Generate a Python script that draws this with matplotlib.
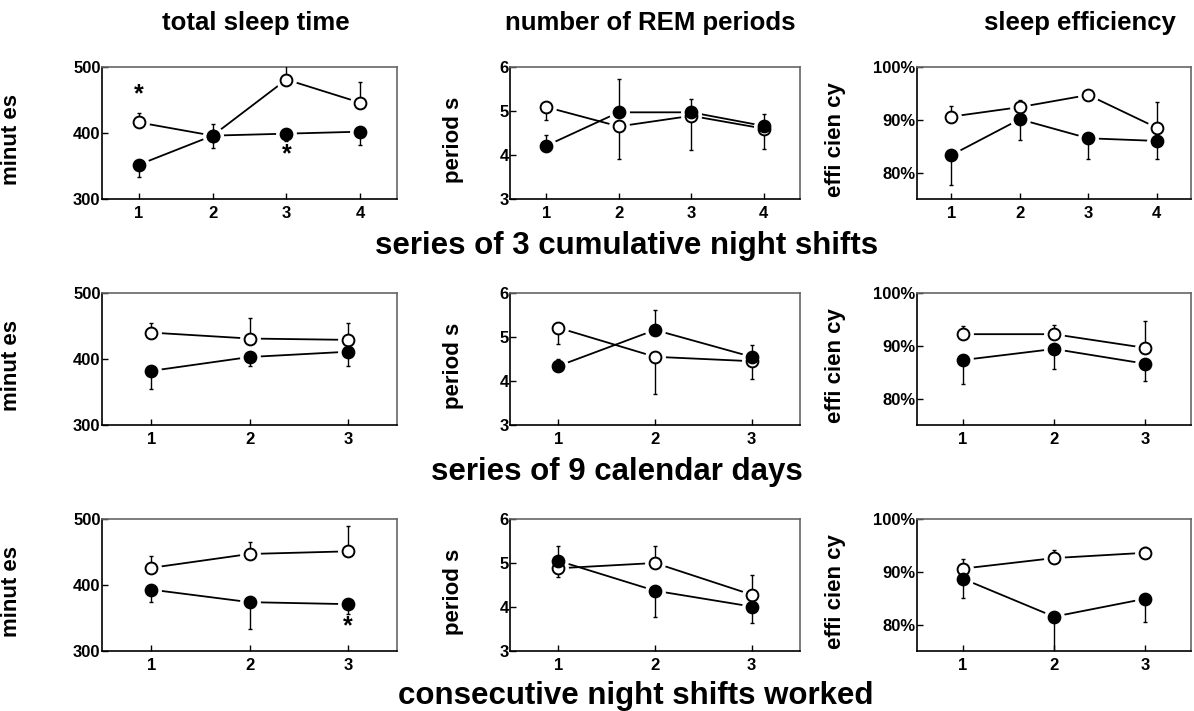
import matplotlib
matplotlib.use('Agg')
import matplotlib.pyplot as plt

plt.rcParams['font.family'] = ['Liberation Sans', 'DejaVu Sans']
plt.rcParams['font.weight'] = 'bold'

# column titles / row captions
col_titles = ['total sleep time', 'number of REM periods', 'sleep efficiency']
row_titles = ['series of 3 cumulative night shifts', 'series of 9 calendar days',
              'consecutive night shifts worked']
y_labels = ['minut es', 'period s', 'effi cien cy']

# values; errors signed (+ up, - down)
x_row1 = [1, 2, 3, 4]
x_row23 = [1, 2, 3]

tst1_open = [416, 396, 481, 446]
tst1_open_err = [14, 18, 22, 31]
tst1_fill = [352, 396, 399, 402]
tst1_fill_err = [-19, -19, -11, -20]
rem1_open = [5.09, 4.65, 4.89, 4.60]
rem1_open_err = [-0.30, -0.74, -0.78, -0.46]
rem1_fill = [4.21, 4.97, 4.97, 4.66]
rem1_fill_err = [0.25, 0.76, 0.30, 0.27]
eff1_open = [90.6, 92.4, 94.7, 88.5]
eff1_open_err = [2.1, 1.4, 0, 4.8]
eff1_fill = [83.3, 90.1, 86.5, 86.0]
eff1_fill_err = [-5.6, -4.0, -3.9, -3.5]

tst2_open = [440, 431, 429]
tst2_open_err = [15, 31, 25]
tst2_fill = [382, 403, 411]
tst2_fill_err = [-28, -13, -22]
rem2_open = [5.21, 4.55, 4.45]
rem2_open_err = [-0.36, -0.85, -0.40]
rem2_fill = [4.34, 5.16, 4.55]
rem2_fill_err = [0.16, 0.45, 0.27]
eff2_open = [92.2, 92.2, 89.6]
eff2_open_err = [1.5, 1.7, 5.1]
eff2_fill = [87.3, 89.4, 86.6]
eff2_fill_err = [-4.6, -3.7, -3.3]

tst3_open = [426, 447, 451]
tst3_open_err = [18, 18, 39]
tst3_fill = [393, 374, 371]
tst3_fill_err = [-18, -40, -15]
rem3_open = [4.88, 5.0, 4.28]
rem3_open_err = [-0.19, 0.38, 0.45]
rem3_fill = [5.05, 4.37, 4.01]
rem3_fill_err = [0.34, -0.60, -0.38]
eff3_open = [90.6, 92.6, 93.6]
eff3_open_err = [1.9, 1.6, 1.1]
eff3_fill = [88.7, 81.5, 84.9]
eff3_fill_err = [-3.6, -8.0, -4.5]

# significance stars: (row, col, x, y)
stars = [(0, 0, 1, 458), (0, 0, 3, 367), (2, 0, 3, 338)]

panels = [
    [(x_row1, tst1_open, tst1_open_err, tst1_fill, tst1_fill_err),
     (x_row1, rem1_open, rem1_open_err, rem1_fill, rem1_fill_err),
     (x_row1, eff1_open, eff1_open_err, eff1_fill, eff1_fill_err)],
    [(x_row23, tst2_open, tst2_open_err, tst2_fill, tst2_fill_err),
     (x_row23, rem2_open, rem2_open_err, rem2_fill, rem2_fill_err),
     (x_row23, eff2_open, eff2_open_err, eff2_fill, eff2_fill_err)],
    [(x_row23, tst3_open, tst3_open_err, tst3_fill, tst3_fill_err),
     (x_row23, rem3_open, rem3_open_err, rem3_fill, rem3_fill_err),
     (x_row23, eff3_open, eff3_open_err, eff3_fill, eff3_fill_err)],
]

W, H = 1194, 711
fig = plt.figure(figsize=(W / 100, H / 100), dpi=100)

row_px = [(67, 199), (293, 425), (519, 651)]
col_px = [(102, 397), (510, 800), (917, 1191)]
ylims = [(300, 500), (3, 6), (75, 100)]
yticks = [[300, 400, 500], [3, 4, 5, 6], [80, 90, 100]]
yticklabels = [['300', '400', '500'], ['3', '4', '5', '6'], ['80%', '90%', '100%']]
label_x = [-0.27, -0.16, -0.26]


def draw_series(ax, x, y, err, filled):
    lo = [max(-e, 0) for e in err]
    hi = [max(e, 0) for e in err]
    ax.plot(x, y, color='black', lw=1.3, zorder=1)
    ax.plot(x, y, 'o', ms=14, color='white', mec='white', zorder=2)
    ax.errorbar(x, y, yerr=[lo, hi], fmt='none', ecolor='black', elinewidth=1,
                capsize=1.5, capthick=1, zorder=3)
    fc = 'black' if filled else 'white'
    ax.plot(x, y, 'o', ms=8.5, mfc=fc, mec='black', mew=1.4, zorder=4)


for r in range(3):
    for c in range(3):
        x0, x1 = col_px[c]
        yt, yb = row_px[r]
        ax = fig.add_axes([x0 / W, 1 - yb / H, (x1 - x0) / W, (yb - yt) / H])
        x, yo, eo, yf, ef = panels[r][c]
        draw_series(ax, x, yo, eo, False)
        draw_series(ax, x, yf, ef, True)
        ax.set_xlim(0.5, len(x) + 0.5)
        ax.set_xticks(x)
        ax.set_ylim(*ylims[c])
        ax.set_yticks(yticks[c])
        ax.set_yticklabels(yticklabels[c])
        ax.tick_params(axis='both', direction='in', length=4, width=1,
                       labelsize=12)
        ax.tick_params(axis='y', pad=1)
        ax.tick_params(axis='x', pad=5)
        for s in ['top', 'right']:
            ax.spines[s].set_color('#666666')
        for s in ax.spines.values():
            s.set_linewidth(1.2)
        ax.set_ylabel(y_labels[c], fontsize=16, fontweight='bold')
        ax.yaxis.set_label_coords(label_x[c], 0.45)
        for sr, sc, sx, sy in stars:
            if sr == r and sc == c:
                ax.text(sx, sy, '*', fontsize=18, fontweight='bold',
                        ha='center', va='center')

title_x = [256, 650, 1080]
for t, tx in zip(col_titles, title_x):
    fig.text(tx / W, 1 - 23 / H, t, fontsize=18.5, fontweight='bold',
             ha='center', va='center')

# caption centre x and baseline y, in pixels
row_title_pos = [(627, 254), (617, 480), (636, 704)]
for t, (tx, ty) in zip(row_titles, row_title_pos):
    fig.text(tx / W, 1 - ty / H, t, fontsize=22.5, fontweight='bold',
             ha='center', va='baseline')

fig.savefig('out.png', dpi=100)
